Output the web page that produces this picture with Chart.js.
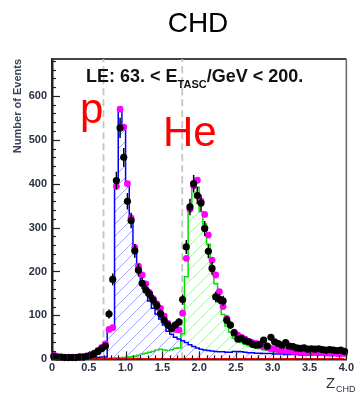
<!DOCTYPE html>
<html>
<head>
<meta charset="utf-8">
<script src="https://cdn.jsdelivr.net/npm/chart.js@4.4.1/dist/chart.umd.min.js"></script>
<style>
  html, body { margin: 0; padding: 0; background: #fff; }
  #wrap { width: 356px; height: 397px; }
</style>
</head>
<body>
<div id="wrap"><canvas id="chd" width="356" height="397"></canvas></div>
<script>
"use strict";

// ---------------------------------------------------------------------------
// Data (bin width 0.05 in Z_CHD)
// ---------------------------------------------------------------------------
const zBins = [
  0.025, 0.075, 0.125, 0.175, 0.225, 0.275, 0.325, 0.375, 0.425, 0.475,
  0.525, 0.575, 0.625, 0.675, 0.725, 0.775, 0.825, 0.875, 0.925, 0.975,
  1.025, 1.075, 1.125, 1.175, 1.225, 1.275, 1.325, 1.375, 1.425, 1.475,
  1.525, 1.575, 1.625, 1.675, 1.725, 1.775, 1.825, 1.875, 1.925, 1.975,
  2.025, 2.075, 2.125, 2.175, 2.225, 2.275, 2.325, 2.375, 2.425, 2.475,
  2.525, 2.575, 2.625, 2.675, 2.725, 2.775, 2.825, 2.875, 2.925, 2.975,
  3.025, 3.075, 3.125, 3.175, 3.225, 3.275, 3.325, 3.375, 3.425, 3.475,
  3.525, 3.575, 3.625, 3.675, 3.725, 3.775, 3.825, 3.875, 3.925, 3.975,
];

// flight data (black points)
const dataCounts = [
  6, 5, 5, 4, 4, 4, 4, 5, 5, 7,
  9, 13, 18, 24, 30, 103, 182, 407, 527, 460,
  360, 316, 247, 203, 173, 158, 148, 135, 122, 104,
  89, 78, 70, 78, 85, 136, 256, 347, 400, 373,
  356, 298, 246, 207, 142, 137, 133, 89, 78, 60,
  46, 48, 42, 40, 34, 32, 34, 44, 30, 50,
  40, 36, 32, 38, 30, 29, 26, 25, 26, 23,
  24, 23, 24, 22, 21, 22, 21, 20, 21, 18,
];

// MC total (magenta points)
const mcTotal = [
  10, 6, 5, 5, 5, 5, 5, 6, 6, 8,
  10, 14, 20, 27, 35, 68, 72, 394, 570, 529,
  400, 322, 255, 212, 192, 172, 152, 138, 126, 116,
  98, 82, 72, 68, 67, 105, 230, 342, 395, 408,
  360, 330, 283, 226, 192, 154, 120, 93, 78, 62,
  55, 50, 46, 41, 38, 36, 32, 29, 27, 25,
  24, 22, 21, 20, 19, 18, 18, 17, 17, 16,
  16, 15, 15, 15, 14, 14, 14, 13, 13, 13,
];

// MC proton (blue hatched)
const mcProton = [
  2, 2, 2, 2, 2, 2, 2, 2, 3, 3,
  3, 4, 4, 5, 5, 68, 72, 392, 568, 527,
  398, 318, 248, 202, 178, 155, 133, 116, 103, 92,
  78, 64, 57, 50, 46, 42, 38, 33, 29, 26,
  23, 21, 20, 19, 18, 17, 17, 16, 16, 18,
  18, 17, 16, 15, 15, 14, 14, 13, 13, 13,
  12, 12, 12, 11, 11, 11, 11, 10, 10, 10,
  10, 10, 9, 9, 9, 9, 9, 9, 9, 9,
];

// MC helium (green hatched)
const mcHelium = [
  0, 0, 0, 0, 0, 0, 0, 0, 0, 0,
  0, 0, 0, 1, 1, 2, 2, 3, 3, 4,
  5, 6, 7, 9, 12, 14, 16, 18, 21, 23,
  21, 20, 22, 25, 26, 58, 188, 342, 390, 392,
  336, 308, 262, 206, 172, 136, 102, 76, 62, 48,
  44, 38, 34, 31, 29, 26, 24, 22, 20, 18,
  17, 16, 15, 14, 14, 13, 13, 13, 12, 12,
  12, 12, 12, 11, 11, 11, 11, 11, 10, 10,
];

// MC other (red, barely above zero)
const mcOther = [
  0, 0, 0, 0, 0, 0, 0, 0, 0, 0,
  0, 1, 1, 1, 2, 2, 2, 2, 2, 2,
  2, 2, 2, 2, 1, 1, 1, 1, 1, 1,
  1, 1, 1, 1, 1, 1, 1, 1, 1, 1,
  1, 1, 1, 1, 1, 1, 1, 1, 1, 1,
  1, 1, 1, 1, 1, 1, 1, 1, 1, 1,
  1, 1, 1, 1, 1, 1, 1, 1, 1, 1,
  1, 1, 1, 1, 1, 1, 1, 1, 1, 1,
];

const cutLines = [0.7, 1.77];   // charge selection cuts (dashed)
const Y_MAX = 684;
const X_MAX = 4;

// ---------------------------------------------------------------------------
// Styling helpers
// ---------------------------------------------------------------------------
const FONT = "'Liberation Sans', Arial, Helvetica, sans-serif";
const LABEL = "#2b3245";

const pts = (arr) => zBins.map((x, i) => ({ x, y: arr[i] }));

function histo(arr, line, hatchColor, order) {
  return {
    data: pts(arr), borderColor: line, borderWidth: 1.5, stepped: "middle",
    pointRadius: 0, fill: false, hatch: hatchColor, order,
  };
}

// error bars: one vertical segment per data point, split by gaps
const errPts = [];
dataCounts.forEach((n, i) => {
  const e = Math.sqrt(n);
  errPts.push({ x: zBins[i], y: n - e }, { x: zBins[i], y: n + e }, { x: zBins[i], y: null });
});

const cutSets = cutLines.map((c) => ({
  data: [{ x: c, y: 0 }, { x: c, y: Y_MAX }],
  borderColor: "#c4c4c4", borderWidth: 1.8, borderDash: [7, 4],
  pointRadius: 0, fill: false, order: 9,
}));

// ROOT-like "/" hatching under a stepped histogram, clipped to its outline
function drawHatch(chart, index, color) {
  const pts = chart.getDatasetMeta(index).data;
  const { ctx: c, chartArea: a } = chart;
  const base = chart.scales.y.getPixelForValue(0);
  c.save();
  c.beginPath();
  c.moveTo(pts[0].x, base);
  c.lineTo(pts[0].x, pts[0].y);
  for (let i = 1; i < pts.length; i++) {
    const mx = (pts[i - 1].x + pts[i].x) / 2;
    c.lineTo(mx, pts[i - 1].y);
    c.lineTo(mx, pts[i].y);
  }
  c.lineTo(pts[pts.length - 1].x, pts[pts.length - 1].y);
  c.lineTo(pts[pts.length - 1].x, base);
  c.closePath();
  c.clip();
  c.strokeStyle = color;
  c.lineWidth = 1;
  const h = a.bottom - a.top;
  c.beginPath();
  for (let s = a.left - h; s < a.right; s += 12) {
    c.moveTo(s, a.bottom); c.lineTo(s + h, a.top);
  }
  c.stroke();
  c.restore();
}

// ---------------------------------------------------------------------------
// Inward ROOT-style ticks, frame, hatching and free text
// ---------------------------------------------------------------------------
const decor = {
  id: "decor",
  beforeDatasetsDraw(chart) {
    const { ctx: c, chartArea: a } = chart;
    c.save();
    c.strokeStyle = "#444";
    c.lineWidth = 2;
    c.beginPath();
    c.moveTo(a.left, a.top); c.lineTo(a.right, a.top);
    c.stroke();
    c.strokeStyle = "#666";
    c.lineWidth = 1.5;
    c.beginPath();
    c.moveTo(a.right, a.top); c.lineTo(a.right, a.bottom);
    c.stroke();
    c.restore();
  },
  beforeDatasetDraw(chart, args) {
    const ds = chart.data.datasets[args.index];
    if (ds.hatch) drawHatch(chart, args.index, ds.hatch);
  },
  afterDatasetsDraw(chart) {
    const { ctx: c, chartArea: a, scales: { x, y } } = chart;
    c.save();
    c.strokeStyle = "#222";
    c.lineWidth = 1.2;
    for (let v = 0; v <= 680; v += 20) {
      const py = Math.round(y.getPixelForValue(v)) + 0.5;
      const len = v % 100 === 0 ? 8 : 4;
      c.beginPath(); c.moveTo(a.left, py); c.lineTo(a.left + len, py); c.stroke();
    }
    for (let k = 0; k <= 40; k++) {
      const px = Math.round(x.getPixelForValue(k / 10)) + 0.5;
      const len = k % 5 === 0 ? 8 : 4;
      c.beginPath(); c.moveTo(px, a.bottom); c.lineTo(px, a.bottom - len); c.stroke();
    }
    c.restore();
  },
  afterDraw(chart) {
    const { ctx: c } = chart;
    c.save();
    c.textBaseline = "alphabetic";

    // title
    c.fillStyle = "#000";
    c.font = `28px ${FONT}`;
    c.textAlign = "center";
    c.fillText("CHD", 198, 32);

    // energy range label
    c.textAlign = "left";
    c.fillStyle = "#111";
    let tx = 86;
    c.font = `bold 18px ${FONT}`;
    c.fillText("LE: 63. < E", tx, 82);
    tx += c.measureText("LE: 63. < E").width;
    c.font = `bold 11px ${FONT}`;
    c.fillText("TASC", tx, 88);
    tx += c.measureText("TASC").width;
    c.font = `bold 18px ${FONT}`;
    c.fillText("/GeV < 200.", tx, 82);

    // particle labels
    c.fillStyle = "#ff0000";
    c.font = `42px ${FONT}`;
    c.fillText("p", 80, 123);
    c.fillText("He", 163, 146);

    // x axis title
    c.fillStyle = LABEL;
    c.font = `15px ${FONT}`;
    c.fillText("Z", 326, 388);
    c.font = `9px ${FONT}`;
    c.fillText("CHD", 336, 392);
    c.restore();
  },
};

// ---------------------------------------------------------------------------
// Chart
// ---------------------------------------------------------------------------
new Chart(document.getElementById("chd"), {
  type: "line",
  data: {
    datasets: [
      { data: pts(dataCounts), showLine: false, pointRadius: 3.6, pointBorderWidth: 0,
        pointBackgroundColor: "#000", clip: false, order: 0 },
      { data: errPts, borderColor: "#000", borderWidth: 1.5, pointRadius: 0,
        spanGaps: false, fill: false, order: 1 },
      { data: pts(mcTotal), showLine: false, pointRadius: 3.4, pointBorderWidth: 0,
        pointBackgroundColor: "#ff00ff", clip: false, order: 2 },
      histo(mcOther, "#ff0000", null, 3),
      histo(mcProton, "#0000ff", "#a3a3ff", 4),
      histo(mcHelium, "#00e000", "#aaeaaa", 5),
      ...cutSets,
    ],
  },
  options: {
    responsive: false,
    animation: false,
    devicePixelRatio: 1,
    layout: { padding: { top: 59, right: 3.5, left: 0, bottom: 0 } },
    plugins: { legend: { display: false }, tooltip: { enabled: false } },
    scales: {
      x: {
        type: "linear", min: 0, max: X_MAX,
        afterFit: (s) => { s.height = 37.7; },
        grid: { display: false, drawTicks: false },
        border: { display: true, color: "#222", width: 1.5 },
        ticks: { stepSize: 0.5, padding: 2, color: LABEL, maxRotation: 0, autoSkip: false,
                 font: { family: FONT, size: 11, weight: "bold" } },
      },
      y: {
        type: "linear", min: 0, max: Y_MAX,
        afterFit: (s) => { s.width = 52; },
        grid: { display: false, drawTicks: false },
        border: { display: true, color: "#222", width: 2.5 },
        ticks: { stepSize: 100, padding: 5, includeBounds: false, color: LABEL,
                 font: { family: FONT, size: 11, weight: "bold" } },
        title: { display: true, text: "Number of Events", align: "end", color: "#3a4358",
                 padding: { top: 11.5, bottom: 0 },
                 font: { family: FONT, size: 11, weight: "bold" } },
      },
    },
  },
  plugins: [decor],
});
</script>
</body>
</html>
